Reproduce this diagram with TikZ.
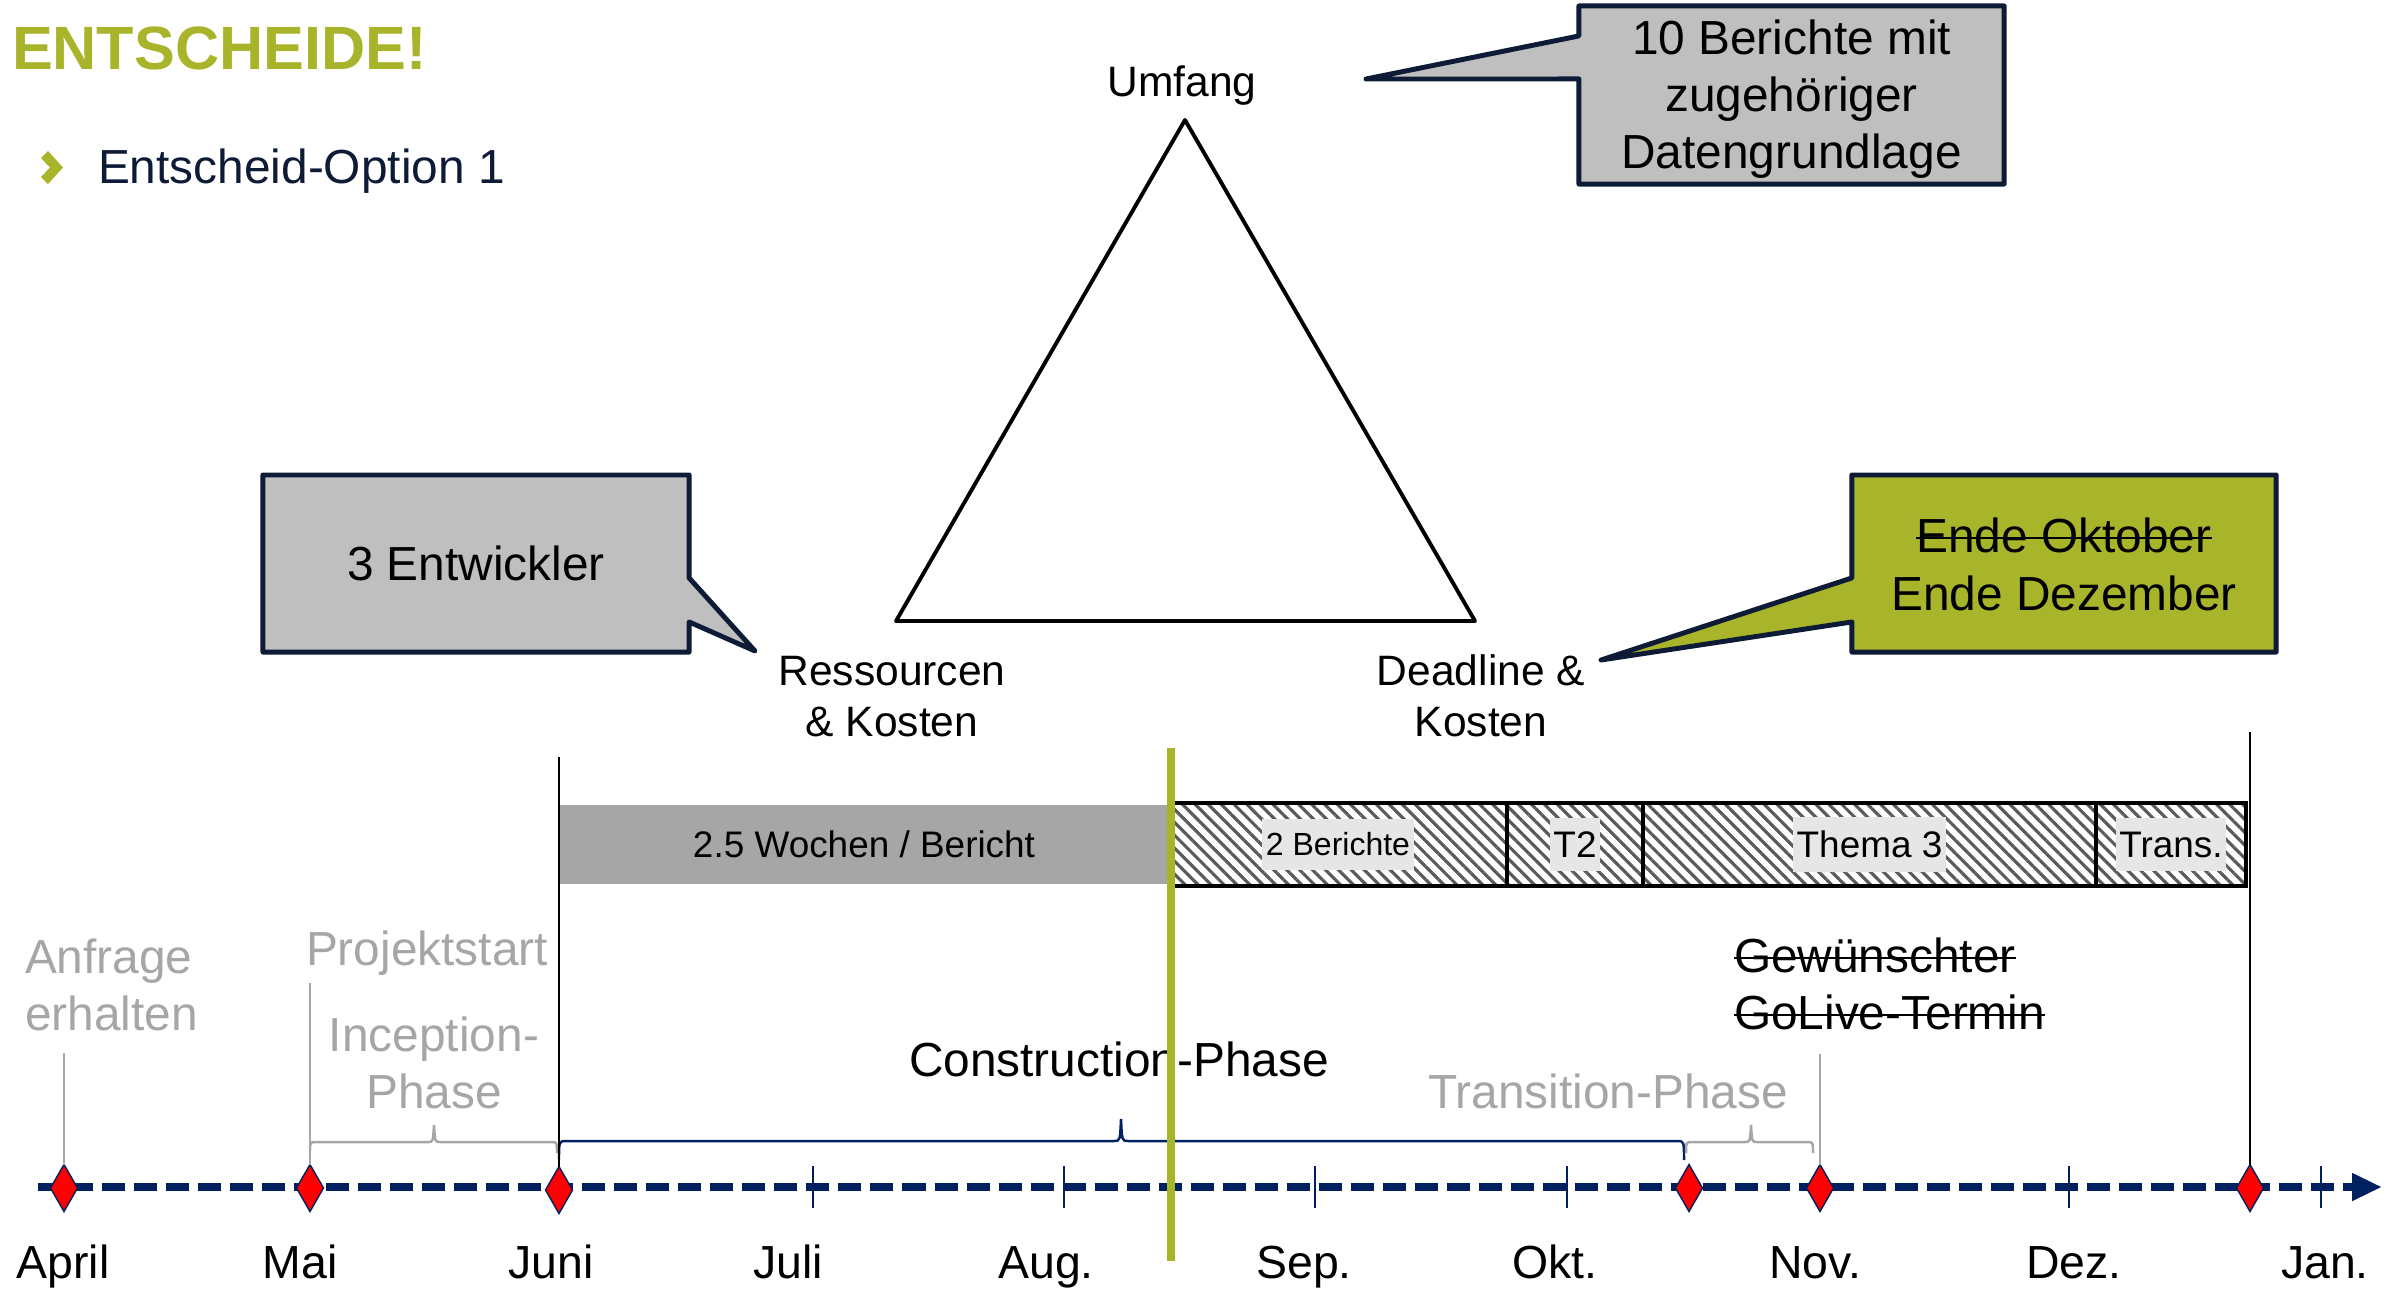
\documentclass[tikz,border=0pt]{standalone}
\usepackage{fontspec}
\setmainfont{Liberation Sans}
\usetikzlibrary{positioning,calc,shapes.geometric,arrows.meta,patterns.meta,backgrounds}

\definecolor{olive}{HTML}{A8B42A}
\definecolor{navy}{HTML}{002060}
\definecolor{inkblue}{HTML}{0D1B36}
\definecolor{boxgrey}{HTML}{BFBFBF}
\definecolor{bargrey}{HTML}{A6A6A6}
\definecolor{softgrey}{HTML}{A6A6A6}
\definecolor{tagbg}{HTML}{E6E6E6}
\definecolor{stripe}{HTML}{5A5A5A}
\definecolor{stonered}{HTML}{FF0000}

\begin{document}
\begin{tikzpicture}[
  x=0.01cm, y=-0.01cm,
  every node/.style={inner sep=0pt, outer sep=0pt},
  bigtext/.style={font=\fontsize{13.6pt}{16.2pt}\selectfont},
  monthtext/.style={font=\fontsize{13.2pt}{16pt}\selectfont},
  midtext/.style={font=\fontsize{12.1pt}{14.5pt}\selectfont},
  bartext/.style={font=\fontsize{10.5pt}{12pt}\selectfont},
  smalltext/.style={font=\fontsize{9.1pt}{11pt}\selectfont},
  bubble/.style={draw=inkblue, line width=1.4pt, line join=round},
  callbox/.style={minimum height=1.77cm},
  month/.style={monthtext, anchor=base},
  milestone/.style={diamond, fill=stonered, draw=navy, line width=0.4pt, minimum width=0.27cm, minimum height=0.47cm},
  marker/.style={draw=softgrey, line width=0.5pt},
  strike/.style={draw=black, line width=0.7pt},
  hatched/.style={draw=black, line width=1.2pt, minimum height=0.83cm, pattern={Lines[angle=-45, distance=2.6pt, line width=0.9pt]}, pattern color=stripe},
  tag/.style={bartext, fill=tagbg, inner xsep=1pt, inner ysep=4pt},
  phasebrace/.style={line width=0.7pt}
]
\useasboundingbox (0,0) rectangle (2403,1290);

% heading
\node[anchor=base west, font=\fontsize{17.4pt}{20pt}\selectfont\bfseries, text=olive] (title) at (12,69) {ENTSCHEIDE!};
\fill[olive] (41,158) -- (48,151) -- (63,167.5) -- (48,184) -- (41,177) -- (50,167.5) -- cycle;
\node[bigtext, anchor=base west, text=inkblue] (option) at (98,183) {Entscheid-Option 1};

% magic triangle
\coordinate (top) at (1185,120);
\coordinate (left) at (896,621);
\coordinate (right) at (1475,621);
\draw[line width=1.1pt, line join=round] (top) -- (left) -- (right) -- cycle;
\node[midtext, anchor=base] (umfang) at (1182,96) {Umfang};
\node[midtext, align=center, anchor=base] (ressourcen) at (892,736) {Ressourcen\\\& Kosten};
\node[midtext, align=center, anchor=base] (deadline) at (1481,736) {Deadline \&\\Kosten};

% callouts
\node[callbox, minimum width=4.25cm, minimum height=1.78cm] (berichte) at (1791.5,95) {};
\node[bigtext, align=center, anchor=base] (berichtetext) at (1791.5,168) {10 Berichte mit\\zugehöriger\\Datengrundlage};
\coordinate (berichtetip) at (1366,79);
\node[callbox, bigtext, minimum width=4.26cm] (entwickler) at (476,563.5) {3 Entwickler};
\coordinate (entwicklertip) at (755,651);
\node[callbox, minimum width=4.24cm] (ende) at (2064,563.5) {};
\coordinate (endetip) at (1601,660);
\node[bigtext, anchor=base] (oktober) at (2064,552) {Ende Oktober};
\node[bigtext, anchor=base] (dezember) at (2064,610) {Ende Dezember};
\draw[strike] ($(oktober.base west)+(0,-14)$) -- ($(oktober.base east)+(0,-14)$);
\begin{scope}[on background layer]
  \draw[bubble, fill=boxgrey] (berichte.north west) -- (berichte.north east) -- (berichte.south east) -- (berichte.south west) -- ($(berichte.north west)+(0,73)$) -- (berichtetip) -- ($(berichte.north west)+(0,30)$) -- cycle;
  \draw[bubble, fill=boxgrey] (entwickler.north west) -- (entwickler.north east) -- ($(entwickler.north east)+(0,103)$) -- (entwicklertip) -- ($(entwickler.north east)+(0,147)$) -- (entwickler.south east) -- (entwickler.south west) -- cycle;
  \draw[bubble, fill=olive] (ende.north west) -- (ende.north east) -- (ende.south east) -- (ende.south west) -- ($(ende.north west)+(0,147)$) -- (endetip) -- ($(ende.north west)+(0,103)$) -- cycle;
\end{scope}

% work packages
\node[bartext, fill=bargrey, minimum width=6.08cm, minimum height=0.79cm] (wochen) at (864,844.5) {2.5 Wochen / Bericht};
\node[hatched, minimum width=3.38cm] (seg1) at (1338,844.5) {};
\node[hatched, minimum width=1.36cm] (seg2) at (1575,844.5) {};
\node[hatched, minimum width=4.53cm] (seg3) at (1869.5,844.5) {};
\node[hatched, minimum width=1.50cm] (seg4) at (2171,844.5) {};
\node[tag, smalltext] (tag1) at (seg1) {2 Berichte};
\node[tag] (tag2) at (seg2) {T2};
\node[tag] (tag3) at (seg3) {Thema 3};
\node[tag] (tag4) at (seg4) {Trans.};

% timeline
\coordinate (tlstart) at (38,1187);
\coordinate (tlend) at (2382,1187);
\draw[navy, line width=2.3pt, dash pattern=on 0.23cm off 0.09cm, -{Triangle[length=0.3cm, width=0.26cm]}] (tlstart) -- (tlend);
\foreach \x in {813,1064,1315,1567,2069,2321}
  \draw[navy, line width=0.5pt] (\x,1166) -- (\x,1208);
\foreach \id/\n/\x in {apr/April/63, mai/Mai/300, jun/Juni/551, jul/Juli/788, aug/Aug./1046, sep/Sep./1304, okt/Okt./1555, nov/Nov./1815, dez/Dez./2074, jan/Jan./2325}
  \node[month] (m\id) at (\x,1278) {\n};

% phase braces
\draw[phasebrace, softgrey] (310,1153) .. controls (310,1142) .. (316,1142) -- (428,1142) .. controls (433,1142) .. (434,1125) .. controls (435,1142) .. (440,1142) -- (551,1142) .. controls (557,1142) .. (557,1153);
\draw[phasebrace, navy] (559,1160) .. controls (559,1141) .. (566,1141) -- (1114,1141) .. controls (1120,1141) .. (1121,1119) .. controls (1122,1141) .. (1128,1141) -- (1677,1141) .. controls (1684,1141) .. (1684,1160);
\draw[phasebrace, softgrey] (1686,1153) .. controls (1686,1142) .. (1692,1142) -- (1745,1142) .. controls (1750,1142) .. (1751,1125) .. controls (1752,1142) .. (1757,1142) -- (1807,1142) .. controls (1813,1142) .. (1813,1153);

% milestones
\node[milestone] (msApr) at (64,1188) {};
\node[milestone] (msMai) at (310,1188) {};
\node[milestone] (msJun) at (559,1190) {};
\node[milestone] (msTra) at (1689,1188) {};
\node[milestone] (msNov) at (1820,1188) {};
\node[milestone] (msEnd) at (2250,1188) {};
\coordinate (anfragetop) at (64,1053);
\coordinate (starttop) at (310,983);
\coordinate (golivetop) at (1820,1054);
\coordinate (junitop) at (559,757);
\coordinate (endtop) at (2250,732);
\draw[marker] (anfragetop) -- (msApr.north);
\draw[marker] (starttop) -- (msMai.north);
\draw[marker] (golivetop) -- (msNov.north);
\draw[black, line width=0.6pt] (junitop) -- (msJun.north);
\draw[black, line width=0.6pt] (endtop) -- (msEnd.north);

% phase labels
\node[bigtext, text=softgrey, align=left, anchor=base west] (anfrage) at (25,1030) {Anfrage\\erhalten};
\node[bigtext, text=softgrey, anchor=base] (projektstart) at (427,965) {Projektstart};
\node[bigtext, text=softgrey, align=center, anchor=base] (inception) at (434,1108) {Inception-\\Phase};
\node[bigtext, anchor=base] (construction) at (1119,1076) {Construction-Phase};
\node[bigtext, text=softgrey, anchor=base] (transition) at (1608,1108) {Transition-Phase};
\node[bigtext, anchor=base west] (gewuenscht) at (1734,972) {Gewünschter};
\node[bigtext, anchor=base west] (golive) at (1734,1029) {GoLive-Termin};
\draw[strike] ($(gewuenscht.base west)+(0,-14)$) -- ($(gewuenscht.base east)+(0,-14)$);
\draw[strike] ($(golive.base west)+(0,-14)$) -- ($(golive.base east)+(0,-14)$);

% today line
\coordinate (nowtop) at (1171,748);
\coordinate (nowbottom) at (1171,1261);
\draw[olive, line width=2.3pt] (nowtop) -- (nowbottom);
\end{tikzpicture}
\end{document}
